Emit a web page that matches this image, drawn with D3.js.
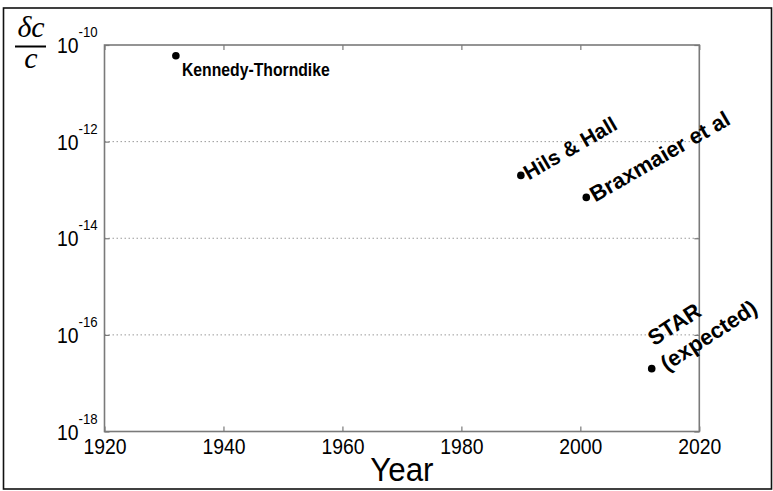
<!DOCTYPE html>
<html>
<head>
<meta charset="utf-8">
<script src="https://cdn.jsdelivr.net/npm/d3@7/dist/d3.min.js"></script>
<style>
  html, body { margin: 0; padding: 0; background: #fff; }
  svg { display: block; font-family: "Liberation Sans", Arial, sans-serif; }
</style>
</head>
<body>
<svg id="chart" width="773" height="491"></svg>
<script>
// Measurements of the speed-of-light isotropy (fractional precision per year)
const experiments = ["Kennedy-Thorndike", "Hils & Hall", "Braxmaier et al", "STAR (expected)"];
const years = [1932, 1990, 2001, 2012];
const precision = [6e-11, 2e-13, 7e-14, 2e-17];

const xTicks = [1920, 1940, 1960, 1980, 2000, 2020];
const yTickExponents = [-10, -12, -14, -16, -18];
const gridExponents = [-12, -14, -16];

const svg = d3.select("#chart");
const plot = { left: 104.5, top: 45, right: 699.3, bottom: 431.5 };
const narrow = 0.88; // horizontal squeeze of the axis lettering

const x = d3.scaleLinear().domain([1920, 2020]).range([plot.left, plot.right]);
const y = d3.scaleLog().domain([1e-18, 1e-10]).range([plot.bottom, plot.top]);

// outer figure border
svg.append("rect")
  .attr("x", 3.5).attr("y", 8).attr("width", 768).attr("height", 481)
  .attr("fill", "#fff").attr("stroke", "#111").attr("stroke-width", 1.6);

// dotted horizontal grid
svg.append("g").selectAll("line").data(gridExponents).join("line")
  .attr("x1", plot.left).attr("x2", plot.right)
  .attr("y1", d => y(Math.pow(10, d))).attr("y2", d => y(Math.pow(10, d)))
  .attr("stroke", "#9a9a9a").attr("stroke-width", 1)
  .attr("stroke-dasharray", "1.5,2.5");

const frameColor = "#7a7a7a";
const tickLen = 5;

// bottom & top axes (inward ticks)
const xAxisB = svg.append("g").attr("transform", `translate(0,${plot.bottom})`)
  .call(d3.axisBottom(x).tickValues(xTicks).tickFormat("")
    .tickSizeInner(-tickLen).tickSizeOuter(0));
xAxisB.select(".domain").remove();
xAxisB.selectAll(".tick line").attr("stroke", frameColor).attr("stroke-width", 1.2);
xAxisB.selectAll(".tick").append("text")
  .attr("transform", `translate(0,22) scale(${narrow},1)`)
  .attr("text-anchor", "middle").attr("fill", "#000")
  .attr("font-size", 22).attr("font-family", "'Liberation Sans', Arial, sans-serif")
  .text(d => d3.format("d")(d));

const xAxisT = svg.append("g").attr("transform", `translate(0,${plot.top})`)
  .call(d3.axisTop(x).tickValues(xTicks).tickFormat("")
    .tickSizeInner(-tickLen).tickSizeOuter(0));
xAxisT.select(".domain").remove();
xAxisT.selectAll(".tick line").attr("stroke", frameColor).attr("stroke-width", 1.2);

// left & right axes
const yVals = yTickExponents.map(e => Math.pow(10, e));
const yAxisL = svg.append("g").attr("transform", `translate(${plot.left},0)`)
  .call(d3.axisLeft(y).tickValues(yVals).tickFormat("")
    .tickSizeInner(-tickLen).tickSizeOuter(0));
yAxisL.select(".domain").remove();
yAxisL.selectAll(".tick line").attr("stroke", frameColor).attr("stroke-width", 1.2);

const yAxisR = svg.append("g").attr("transform", `translate(${plot.right},0)`)
  .call(d3.axisRight(y).tickValues(yVals).tickFormat("")
    .tickSizeInner(-tickLen).tickSizeOuter(0));
yAxisR.select(".domain").remove();
yAxisR.selectAll(".tick line").attr("stroke", frameColor).attr("stroke-width", 1.2);

// power-of-ten labels
const yLab = svg.append("g").selectAll("g").data(yTickExponents).join("g")
  .attr("transform", d => `translate(${plot.left - 26},${y(Math.pow(10, d))}) scale(${narrow},1)`);
yLab.append("text")
  .attr("x", 0).attr("y", 8).attr("text-anchor", "end")
  .attr("font-size", 22).text("10");
yLab.append("text")
  .attr("x", 0).attr("y", -8).attr("text-anchor", "start")
  .attr("font-size", 15).text(d => "-" + Math.abs(d));

// plot frame
svg.append("rect")
  .attr("x", plot.left).attr("y", plot.top)
  .attr("width", plot.right - plot.left).attr("height", plot.bottom - plot.top)
  .attr("fill", "none").attr("stroke", frameColor).attr("stroke-width", 1.6);

// axis title
svg.append("text")
  .attr("transform", `translate(${(plot.left + plot.right) / 2},481) scale(0.95,1)`)
  .attr("text-anchor", "middle").attr("font-size", 33).text("Year");

// δc / c fraction
const frac = svg.append("g").attr("transform", "translate(31,0)")
  .attr("font-family", "'Liberation Serif', 'Times New Roman', serif")
  .attr("font-style", "italic").attr("font-size", 30);
frac.append("text").attr("x", 0).attr("y", 37).attr("text-anchor", "middle").text("δc");
frac.append("line").attr("x1", -16).attr("x2", 15).attr("y1", 46.5).attr("y2", 46.5)
  .attr("stroke", "#000").attr("stroke-width", 2);
frac.append("text").attr("x", 0).attr("y", 68).attr("text-anchor", "middle").text("c");

// data points
const pts = experiments.map((name, i) => ({ name, year: years[i], value: precision[i] }));
svg.append("g").selectAll("circle").data(pts).join("circle")
  .attr("cx", d => x(d.year)).attr("cy", d => y(d.value))
  .attr("r", 3.8).attr("fill", "#000");

// labels
const labelStyle = [
  { dx: 6, dy: 20, rot: 0, size: 19, sx: 0.83, lines: ["Kennedy-Thorndike"], shift: [0] },
  { dx: 8, dy: 5, rot: -30, size: 21, sx: 1, lines: ["Hils & Hall"], shift: [0] },
  { dx: 9, dy: 5, rot: -30, size: 22, sx: 1, lines: ["Braxmaier et al"], shift: [0] },
  { dx: 15, dy: 3, rot: -33, size: 22, sx: 1, lines: ["STAR", "(expected)"], shift: [3, 0] }
];
const labels = svg.append("g").selectAll("text").data(pts).join("text")
  .attr("transform", (d, i) => {
    const s = labelStyle[i];
    return `translate(${x(d.year) + s.dx},${y(d.value) + s.dy}) rotate(${s.rot}) scale(${s.sx},1)`;
  })
  .attr("font-weight", "bold")
  .attr("font-size", (d, i) => labelStyle[i].size);
labels.each(function(d, i) {
  const s = labelStyle[i];
  const t = d3.select(this);
  if (s.lines.length === 1) {
    t.text(s.lines[0]);
  } else {
    s.lines.forEach((ln, k) => {
      t.append("tspan").attr("x", s.shift[k]).attr("y", (k - s.lines.length + 1) * 28).text(ln);
    });
  }
});
</script>
</body>
</html>
